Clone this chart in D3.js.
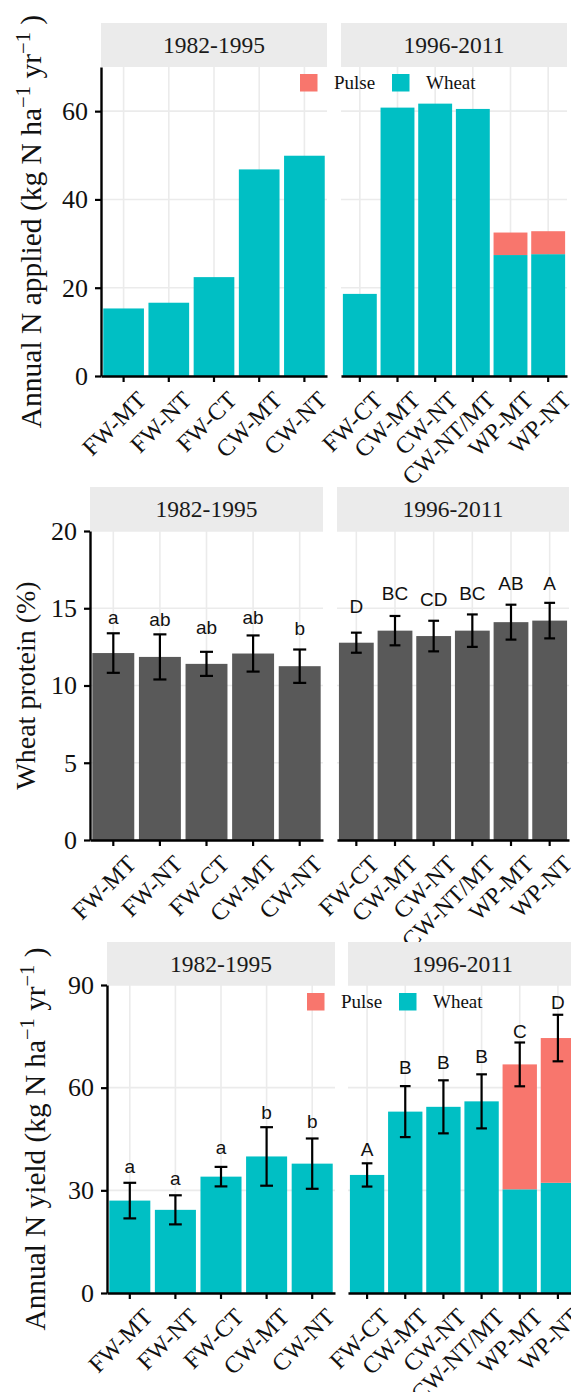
<!DOCTYPE html>
<html>
<head>
<meta charset="utf-8">
<script src="https://cdn.jsdelivr.net/npm/d3@7"></script>
<style>
  body { margin: 0; background: #fff; }
  svg { display: block; }
</style>
</head>
<body>
<svg id="chart" width="571" height="1392"></svg>
<script>
// ---- data -----------------------------------------------------------
const periods = ["1982-1995", "1996-2011"];
const systemsEarly = ["FW-MT", "FW-NT", "FW-CT", "CW-MT", "CW-NT"];
const systemsLate = ["FW-CT", "CW-MT", "CW-NT", "CW-NT/MT", "WP-MT", "WP-NT"];
const cropNames = ["Pulse", "Wheat"];

// Annual N applied (kg N / ha / yr), by crop
const appliedWheatEarly = [15.3, 16.6, 22.4, 46.8, 49.9];
const appliedPulseEarly = [0, 0, 0, 0, 0];
const appliedWheatLate = [18.6, 60.8, 61.7, 60.5, 27.4, 27.6];
const appliedPulseLate = [0, 0, 0, 0, 5.1, 5.2];
const appliedTicks = [0, 20, 40, 60];

// Wheat grain protein (%), mean and error half-width
const proteinEarly = [12.1, 11.85, 11.4, 12.07, 11.25];
const proteinErrEarly = [1.28, 1.46, 0.78, 1.17, 1.08];
const proteinLettersEarly = ["a", "ab", "ab", "ab", "b"];
const proteinLetterYEarly = [14.0, 13.84, 13.35, 13.96, 13.24];
const proteinLate = [12.77, 13.55, 13.2, 13.55, 14.1, 14.2];
const proteinErrLate = [0.65, 0.95, 0.99, 1.05, 1.13, 1.15];
const proteinLettersLate = ["D", "BC", "CD", "BC", "AB", "A"];
const proteinLetterYLate = [14.72, 15.55, 15.14, 15.55, 16.16, 16.2];
const proteinTicks = [0, 5, 10, 15, 20];

// Annual N yield (kg N / ha / yr), by crop; error on the total
const yieldWheatEarly = [27.0, 24.3, 34.0, 39.9, 37.8];
const yieldPulseEarly = [0, 0, 0, 0, 0];
const yieldErrEarly = [5.2, 4.25, 2.85, 8.55, 7.35];
const yieldLettersEarly = ["a", "a", "a", "b", "b"];
const yieldLetterYEarly = [35.0, 31.6, 40.6, 50.9, 48.1];
const yieldWheatLate = [34.5, 53.0, 54.4, 56.0, 30.3, 32.2];
const yieldPulseLate = [0, 0, 0, 0, 36.5, 42.3];
const yieldErrLate = [3.4, 7.45, 7.75, 7.9, 6.4, 6.8];
const yieldLettersLate = ["A", "B", "B", "B", "C", "D"];
const yieldLetterYLate = [39.9, 64.0, 65.6, 67.1, 74.4, 82.9];
const yieldTicks = [0, 30, 60, 90];

// ---- styling --------------------------------------------------------
const SERIF = "'Liberation Serif', 'Times New Roman', serif";
const SANS = "'Liberation Sans', Arial, sans-serif";
const colors = { Pulse: "#F8766D", Wheat: "#00BFC4", Protein: "#595959" };
const gridColor = "#ebebeb";
const stripColor = "#ebebeb";

const svg = d3.select("#chart");

function rows(cats, a, b) {
  return cats.map((c, i) => ({ cat: c, wheat: a[i], pulse: b ? b[i] : 0 }));
}

const figures = [
  {
    title: ["Annual N applied (kg N ha", "−1", " yr", "−1", " )"],
    titleX: 41, titleSize: 29.5,
    stripTop: 23, top: 67, bottom: 376,
    cols: [[101, 327], [341, 567]],
    domain: [0, 70], ticks: appliedTicks,
    mode: "crop",
    facets: [
      { rows: rows(systemsEarly, appliedWheatEarly, appliedPulseEarly) },
      { rows: rows(systemsLate, appliedWheatLate, appliedPulseLate) }
    ],
    legend: { x: 300, y: 74 }
  },
  {
    title: ["Wheat protein (%)"],
    titleX: 35, titleSize: 28,
    stripTop: 487, top: 531, bottom: 840,
    cols: [[90, 323], [337, 569]],
    domain: [0, 20], ticks: proteinTicks,
    mode: "single",
    facets: [
      { rows: rows(systemsEarly, proteinEarly), err: proteinErrEarly,
        letters: proteinLettersEarly, letterY: proteinLetterYEarly },
      { rows: rows(systemsLate, proteinLate), err: proteinErrLate,
        letters: proteinLettersLate, letterY: proteinLetterYLate }
    ]
  },
  {
    title: ["Annual N yield (kg N ha", "−1", " yr", "−1", " )"],
    titleX: 45, titleSize: 29.3,
    stripTop: 942, top: 985, bottom: 1293,
    cols: [[107, 335], [348, 577]],
    domain: [0, 90], ticks: yieldTicks,
    mode: "crop",
    facets: [
      { rows: rows(systemsEarly, yieldWheatEarly, yieldPulseEarly), err: yieldErrEarly,
        letters: yieldLettersEarly, letterY: yieldLetterYEarly },
      { rows: rows(systemsLate, yieldWheatLate, yieldPulseLate), err: yieldErrLate,
        letters: yieldLettersLate, letterY: yieldLetterYLate }
    ],
    legend: { x: 307, y: 993 }
  }
];

figures.forEach(fig => {
  const y = d3.scaleLinear().domain(fig.domain).range([fig.bottom, fig.top]);
  const g = svg.append("g");

  fig.facets.forEach((facet, fi) => {
    const [x0, x1] = fig.cols[fi];
    const x = d3.scaleBand()
      .domain(facet.rows.map(d => d.cat))
      .range([x0, x1])
      .paddingInner(0.1)
      .paddingOuter(0.05);
    const step = x.step();
    const pg = g.append("g");

    // grid
    pg.selectAll(".hgrid").data(fig.ticks).join("line")
      .attr("x1", x0).attr("x2", x1)
      .attr("y1", d => y(d)).attr("y2", d => y(d))
      .attr("stroke", gridColor).attr("stroke-width", 1.6);
    pg.selectAll(".vgrid").data(facet.rows).join("line")
      .attr("x1", d => x(d.cat) + x.bandwidth() / 2)
      .attr("x2", d => x(d.cat) + x.bandwidth() / 2)
      .attr("y1", fig.top).attr("y2", fig.bottom)
      .attr("stroke", gridColor).attr("stroke-width", 1.6);

    // bars
    if (fig.mode === "single") {
      pg.selectAll(".bar").data(facet.rows).join("rect")
        .attr("x", d => x(d.cat)).attr("width", x.bandwidth())
        .attr("y", d => y(d.wheat)).attr("height", d => y(0) - y(d.wheat))
        .attr("fill", colors.Protein);
    } else {
      const stack = d3.stack().keys(["wheat", "pulse"])(facet.rows);
      stack.forEach(layer => {
        const fill = layer.key === "wheat" ? colors.Wheat : colors.Pulse;
        pg.selectAll(".seg-" + layer.key).data(layer.filter(d => d[1] > d[0])).join("rect")
          .attr("x", d => x(d.data.cat)).attr("width", x.bandwidth())
          .attr("y", d => y(d[1])).attr("height", d => y(d[0]) - y(d[1]))
          .attr("fill", fill);
      });
    }

    // error bars around the bar total, with significance letters
    if (facet.err) {
      const cap = step * 0.28;
      facet.rows.forEach((d, i) => {
        const total = d.wheat + d.pulse;
        const cx = x(d.cat) + x.bandwidth() / 2;
        const hi = y(total + facet.err[i]);
        const lo = y(total - facet.err[i]);
        const eg = pg.append("g").attr("stroke", "#000").attr("stroke-width", 2.2);
        eg.append("line").attr("x1", cx).attr("x2", cx).attr("y1", hi).attr("y2", lo);
        eg.append("line").attr("x1", cx - cap / 2).attr("x2", cx + cap / 2).attr("y1", hi).attr("y2", hi);
        eg.append("line").attr("x1", cx - cap / 2).attr("x2", cx + cap / 2).attr("y1", lo).attr("y2", lo);
      });
      pg.selectAll(".letter").data(facet.rows).join("text")
        .attr("x", d => x(d.cat) + x.bandwidth() / 2)
        .attr("y", (d, i) => y(facet.letterY[i]))
        .attr("text-anchor", "middle")
        .attr("font-family", SANS).attr("font-size", 19)
        .attr("fill", "#111")
        .text((d, i) => facet.letters[i]);
    }

    // x axis
    const xa = pg.append("g").attr("transform", `translate(0,${fig.bottom})`);
    xa.call(d3.axisBottom(x).tickSize(6).tickSizeOuter(0));
    xa.select(".domain").attr("stroke", "#000").attr("stroke-width", 2.4);
    xa.selectAll(".tick line").attr("stroke", "#000").attr("stroke-width", 2.2);
    xa.selectAll(".tick text")
      .attr("font-family", SERIF).attr("font-size", 24).attr("fill", "#111")
      .attr("text-anchor", "end")
      .attr("x", -1).attr("y", 35).attr("dy", null)
      .attr("transform", "rotate(-45)");

    // y axis on the first column only
    if (fi === 0) {
      const ya = pg.append("g").attr("transform", `translate(${x0},0)`);
      ya.call(d3.axisLeft(y).tickValues(fig.ticks).tickSize(6).tickSizeOuter(0).tickPadding(7));
      ya.select(".domain").attr("stroke", "#000").attr("stroke-width", 2.4);
      ya.selectAll(".tick line").attr("stroke", "#000").attr("stroke-width", 2.2);
      ya.selectAll(".tick text")
        .attr("font-family", SERIF).attr("font-size", 26).attr("fill", "#111");
    }

    // facet strip
    pg.append("rect")
      .attr("x", x0).attr("y", fig.stripTop)
      .attr("width", x1 - x0).attr("height", fig.top - fig.stripTop)
      .attr("fill", stripColor);
    pg.append("text")
      .attr("x", (x0 + x1) / 2).attr("y", (fig.stripTop + fig.top) / 2)
      .attr("dy", "0.35em").attr("text-anchor", "middle")
      .attr("font-family", SERIF).attr("font-size", 23.5).attr("fill", "#1a1a1a")
      .text(periods[fi]);
  });

  // y title, rotated
  const cy = (fig.top + fig.bottom) / 2;
  const t = g.append("text")
    .attr("transform", `translate(${fig.titleX},${cy}) rotate(-90)`)
    .attr("text-anchor", "middle")
    .attr("font-family", SERIF).attr("font-size", fig.titleSize).attr("fill", "#111");
  fig.title.forEach((part, i) => {
    const sup = i % 2 === 1;
    t.append("tspan")
      .attr("font-size", sup ? fig.titleSize * 0.7 : fig.titleSize)
      .attr("dy", sup ? "-0.55em" : (i > 0 ? "0.385em" : null))
      .text(part);
  });

  // legend
  if (fig.legend) {
    const lg = g.append("g").attr("transform", `translate(${fig.legend.x},${fig.legend.y})`);
    const offsets = [0, 92];
    cropNames.forEach((name, i) => {
      lg.append("rect").attr("x", offsets[i]).attr("y", 0)
        .attr("width", 17.5).attr("height", 17.5).attr("fill", colors[name]);
      lg.append("text").attr("x", offsets[i] + 34).attr("y", 8.75).attr("dy", "0.35em")
        .attr("font-family", SERIF).attr("font-size", 19).attr("fill", "#111")
        .text(name);
    });
  }
});
</script>
</body>
</html>
